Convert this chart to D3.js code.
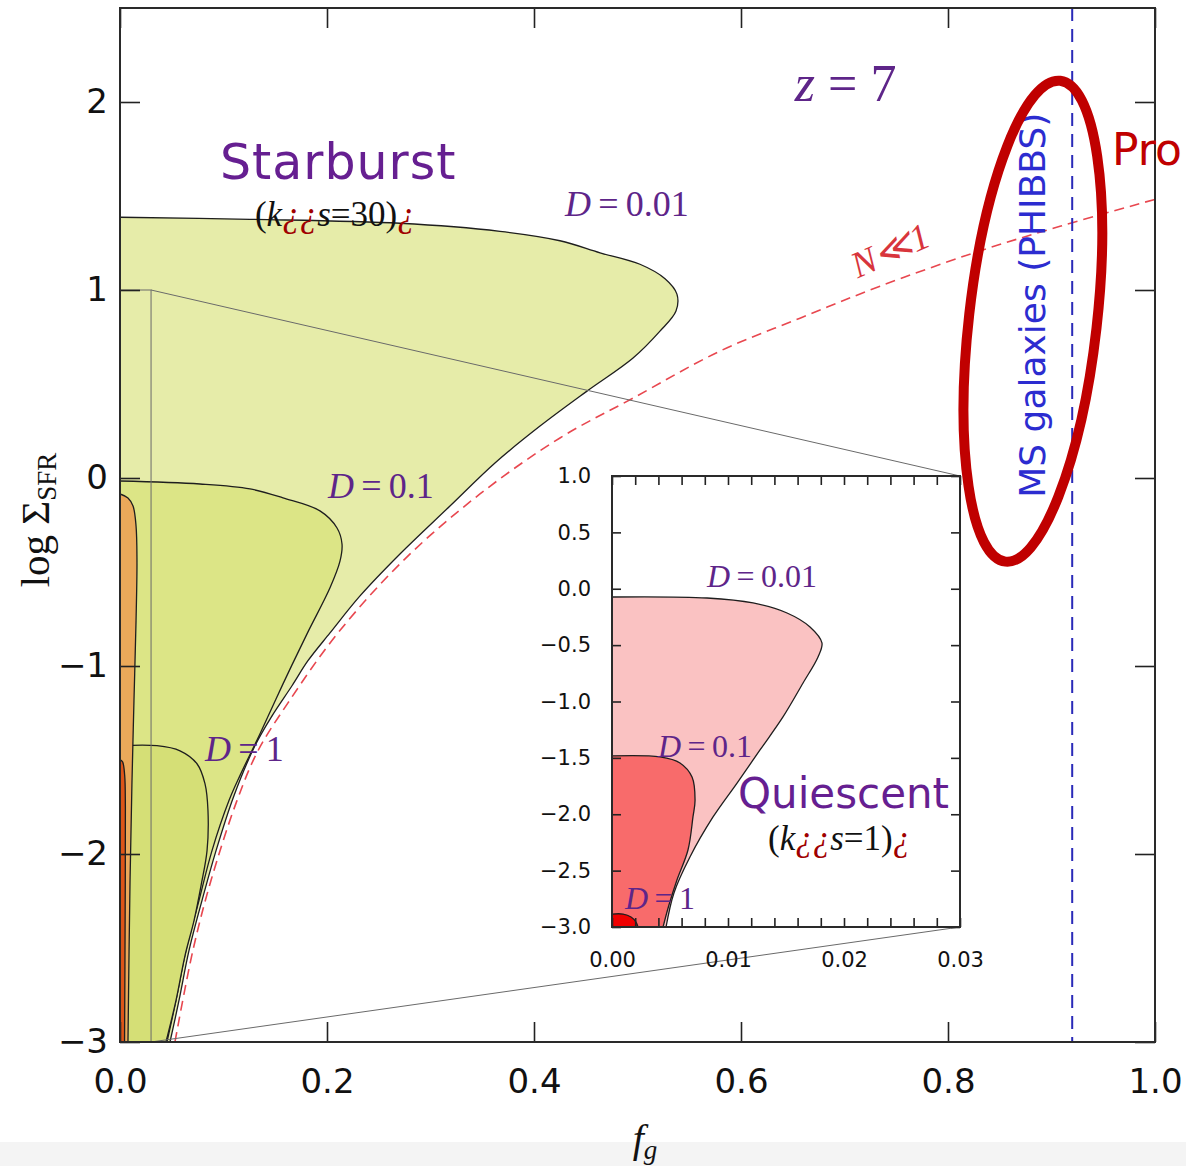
<!DOCTYPE html>
<html>
<head>
<meta charset="utf-8">
<script src="https://d3js.org/d3.v7.min.js"></script>
<style>
  body { margin: 0; background: #fff; }
  svg { display: block; }
</style>
</head>
<body>
<svg id="chart"></svg>
<script>
const WIDTH = 1186
const HEIGHT = 1166
const MAIN = {left: 120, right: 1155, top: 8, bottom: 1042}
const INSET = {left: 612, right: 960, top: 476, bottom: 927}
const PURPLE = "#5e2589"

// ---- main panel (starburst, kappa_s = 30): contour edges as [f_g, log SigmaSFR]
const starburstD001 = [
  [0, 1.387], [0.1256, 1.376], [0.2705, 1.355], [0.3671, 1.312], [0.4251, 1.262],
  [0.4638, 1.198], [0.5024, 1.137], [0.5266, 1.06], [0.5381, 0.978], [0.5372, 0.888],
  [0.5217, 0.781], [0.4957, 0.638], [0.4512, 0.462], [0.4058, 0.276], [0.3623, 0.08],
  [0.3188, -0.149], [0.2705, -0.404], [0.2319, -0.627], [0.2029, -0.824], [0.1816, -0.972],
  [0.1662, -1.105], [0.1469, -1.265], [0.1304, -1.424], [0.1101, -1.69], [0.0928, -1.982],
  [0.0792, -2.248], [0.0667, -2.513], [0.057, -2.779], [0.0483, -3.0]
]
const starburstD01 = [
  [0, -0.016], [0.0773, -0.032], [0.1256, -0.058], [0.1575, -0.106], [0.1932, -0.175],
  [0.2097, -0.266], [0.2145, -0.351], [0.2126, -0.441], [0.2029, -0.584], [0.1807, -0.829],
  [0.1575, -1.095], [0.1353, -1.36], [0.1159, -1.583], [0.1053, -1.716], [0.0889, -1.982],
  [0.0763, -2.248], [0.0638, -2.513], [0.0541, -2.779], [0.0454, -3.0]
]
const starburstD1 = [
  [0, -1.424], [0.0357, -1.424], [0.058, -1.451], [0.0744, -1.52], [0.0821, -1.626],
  [0.085, -1.769], [0.0841, -1.982], [0.0783, -2.168], [0.0715, -2.354], [0.0628, -2.54],
  [0.0541, -2.779], [0.0444, -3.0]
]
const starburstD10 = [
  [0, -0.085], [0.0077, -0.106], [0.0126, -0.149], [0.0155, -0.255], [0.0164, -0.441],
  [0.0155, -0.76], [0.0135, -1.185], [0.0116, -1.61], [0.0097, -2.141], [0.0077, -3.0]
]
const starburstD100 = [
  [0, -1.498], [0.0025, -1.51], [0.0045, -1.58], [0.0052, -1.75], [0.005, -2.3], [0.0044, -3.0]
]
// N << 1 limit (red dashed)
const nLimit = [
  [0.0531, -3.0], [0.0705, -2.511], [0.0879, -2.141], [0.113, -1.716], [0.1333, -1.451],
  [0.1623, -1.196], [0.2106, -0.824], [0.2754, -0.43], [0.3478, -0.085], [0.4251, 0.213],
  [0.4957, 0.425], [0.5797, 0.675], [0.657, 0.85], [0.7343, 1.02], [0.8242, 1.196],
  [0.9082, 1.339], [1.0, 1.482]
]
const msGalaxyFg = 0.92
const zoomBox = {x0: 0, x1: 0.03, y0: -3, y1: 1}

// ---- inset (quiescent, kappa_s = 1)
const quiescentD001 = [
  [0, -0.073], [0.00819, -0.082], [0.01216, -0.126], [0.01509, -0.215], [0.01707, -0.339],
  [0.0181, -0.481], [0.01776, -0.605], [0.01647, -0.836], [0.01474, -1.137], [0.01276, -1.43],
  [0.01078, -1.723], [0.00871, -2.024], [0.00672, -2.379], [0.00534, -2.698], [0.00466, -3.0]
]
const quiescentD01 = [
  [0, -1.483], [0.00414, -1.492], [0.00586, -1.545], [0.0069, -1.67], [0.00716, -1.874],
  [0.00698, -2.024], [0.00655, -2.317], [0.0056, -2.583], [0.00491, -2.805], [0.0044, -3.0]
]
const quiescentD1 = [
  [0, -2.885], [0.00095, -2.885], [0.00164, -2.911], [0.00207, -2.956], [0.00224, -3.0]
]

const mainXTicks = [0, 0.2, 0.4, 0.6, 0.8, 1.0]
const mainYTicks = [-3, -2, -1, 0, 1, 2]
const insetXTicks = [0, 0.01, 0.02, 0.03]
const insetYTicks = [-3, -2.5, -2, -1.5, -1, -0.5, 0, 0.5, 1]

const svg = d3.select("#chart").attr("width", WIDTH).attr("height", HEIGHT)
svg.append("rect").attr("width", WIDTH).attr("height", HEIGHT).attr("fill", "#fff")
svg.append("rect").attr("y", 1142).attr("width", WIDTH).attr("height", HEIGHT - 1142).attr("fill", "#f4f4f4")

const x = d3.scaleLinear().domain([0, 1]).range([MAIN.left, MAIN.right])
const y = d3.scaleLinear().domain([-3, 2.5]).range([MAIN.bottom, MAIN.top])
const xi = d3.scaleLinear().domain([0, 0.03]).range([INSET.left, INSET.right])
const yi = d3.scaleLinear().domain([-3, 1]).range([INSET.bottom, INSET.top])

function drawRegion(g, pts, xs, ys, fill) {
  const edge = d3.line().x((d) => xs(d[0])).y((d) => ys(d[1])).curve(d3.curveCatmullRom.alpha(0.5))
  g.append("path")
    .attr("d", edge(pts) + `L${xs(0)},${ys(-3)}Z`)
    .attr("fill", fill)
  g.append("path")
    .attr("d", edge(pts))
    .attr("fill", "none")
    .attr("stroke", "#1e1e1e")
    .attr("stroke-width", 1.3)
}

function addKappa(g, px, py, num, size) {
  const t = g.append("text").attr("x", px).attr("y", py)
    .style("font-family", "Liberation Serif, serif").style("font-size", size + "px").attr("fill", "#111")
  t.append("tspan").text("(")
  t.append("tspan").style("font-style", "italic").text("k")
  t.append("tspan").style("font-style", "italic").attr("fill", "#a00000").text("¿¿")
  t.append("tspan").style("font-style", "italic").text("s")
  t.append("tspan").text("=" + num + ")")
  t.append("tspan").style("font-style", "italic").attr("fill", "#a00000").text("¿")
}

function addDLabel(g, px, py, val, size) {
  const t = g.append("text").attr("x", px).attr("y", py)
    .style("font-family", "Liberation Serif, serif").style("font-size", size + "px").attr("fill", PURPLE)
  t.append("tspan").style("font-style", "italic").text("D")
  t.append("tspan").text("\u2009=\u2009" + val)
}

// ---- main panel
const main = svg.append("g")
main.append("defs").append("clipPath").attr("id", "mainClip")
  .append("rect").attr("x", MAIN.left).attr("y", MAIN.top)
  .attr("width", MAIN.right - MAIN.left).attr("height", MAIN.bottom - MAIN.top)
const plot = main.append("g").attr("clip-path", "url(#mainClip)")

drawRegion(plot, starburstD001, x, y, "#e6eca9")
drawRegion(plot, starburstD01, x, y, "#dce586")
drawRegion(plot, starburstD1, x, y, "#d5df76")
drawRegion(plot, starburstD10, x, y, "#eaa95a")
drawRegion(plot, starburstD100, x, y, "#dd5518")

// zoom box and connectors to the inset
plot.append("rect")
  .attr("x", x(zoomBox.x0)).attr("y", y(zoomBox.y1))
  .attr("width", x(zoomBox.x1) - x(zoomBox.x0)).attr("height", y(zoomBox.y0) - y(zoomBox.y1))
  .attr("fill", "none").attr("stroke", "#6a6a6a").attr("stroke-width", 1)
main.append("line")
  .attr("x1", x(zoomBox.x1)).attr("y1", y(zoomBox.y1)).attr("x2", INSET.right).attr("y2", INSET.top)
  .attr("stroke", "#6a6a6a").attr("stroke-width", 1)
main.append("line")
  .attr("x1", x(zoomBox.x1)).attr("y1", y(zoomBox.y0)).attr("x2", INSET.right).attr("y2", INSET.bottom)
  .attr("stroke", "#6a6a6a").attr("stroke-width", 1)

plot.append("path")
  .attr("d", d3.line().x((d) => x(d[0])).y((d) => y(d[1])).curve(d3.curveCatmullRom.alpha(0.5))(nLimit))
  .attr("fill", "none").attr("stroke", "#e8474f").attr("stroke-width", 1.6).attr("stroke-dasharray", "10,6")

plot.append("line")
  .attr("x1", x(msGalaxyFg)).attr("x2", x(msGalaxyFg)).attr("y1", MAIN.top).attr("y2", MAIN.bottom)
  .attr("stroke", "#2a2ab8").attr("stroke-width", 2).attr("stroke-dasharray", "13,8")

// axes
function styleAxis(g, size) {
  g.select(".domain").remove()
  g.selectAll(".tick line").attr("stroke", "#222").attr("stroke-width", 1.6)
  g.selectAll(".tick text").attr("fill", "#111")
    .style("font-family", "DejaVu Sans, sans-serif").style("font-size", size + "px")
}
main.append("g").attr("transform", `translate(0,${MAIN.bottom})`)
  .call(d3.axisBottom(x).tickValues(mainXTicks).tickFormat(d3.format(".1f")).tickSize(-20).tickPadding(27))
  .call((g) => styleAxis(g, 34))
main.append("g").attr("transform", `translate(0,${MAIN.top})`)
  .call(d3.axisTop(x).tickValues(mainXTicks).tickFormat("").tickSize(-20))
  .call((g) => styleAxis(g, 34))
main.append("g").attr("transform", `translate(${MAIN.left},0)`)
  .call(d3.axisLeft(y).tickValues(mainYTicks).tickFormat(d3.format("d")).tickSize(-20).tickPadding(12))
  .call((g) => styleAxis(g, 34))
main.append("g").attr("transform", `translate(${MAIN.right},0)`)
  .call(d3.axisRight(y).tickValues(mainYTicks).tickFormat("").tickSize(-20))
  .call((g) => styleAxis(g, 34))
main.append("rect")
  .attr("x", MAIN.left).attr("y", MAIN.top)
  .attr("width", MAIN.right - MAIN.left).attr("height", MAIN.bottom - MAIN.top)
  .attr("fill", "none").attr("stroke", "#2a2a2a").attr("stroke-width", 2)

// axis titles
const xTitle = main.append("text").attr("x", 645).attr("y", 1152).attr("text-anchor", "middle")
  .style("font-family", "Liberation Serif, serif").style("font-size", "40px").attr("fill", "#111")
xTitle.append("tspan").style("font-style", "italic").text("f")
xTitle.append("tspan").style("font-style", "italic").style("font-size", "27px").attr("dy", 7).text("g")
const yTitle = main.append("text").attr("transform", "translate(49,520) rotate(-90)").attr("text-anchor", "middle")
  .style("font-family", "Liberation Serif, serif").style("font-size", "41px").attr("fill", "#111")
yTitle.append("tspan").text("log Σ")
yTitle.append("tspan").style("font-size", "27px").attr("dy", 7).text("SFR")

// ---- inset
const inset = svg.append("g")
inset.append("rect")
  .attr("x", INSET.left).attr("y", INSET.top)
  .attr("width", INSET.right - INSET.left).attr("height", INSET.bottom - INSET.top)
  .attr("fill", "#fff")
drawRegion(inset, quiescentD001, xi, yi, "#fac2c2")
drawRegion(inset, quiescentD01, xi, yi, "#f86b6b")
drawRegion(inset, quiescentD1, xi, yi, "#f00000")

const insetMinor = xi.ticks(15)
inset.append("g").attr("transform", `translate(0,${INSET.bottom})`)
  .call(d3.axisBottom(xi).tickValues(insetMinor).tickFormat("").tickSize(-9))
  .call((g) => styleAxis(g, 21))
inset.append("g").attr("transform", `translate(0,${INSET.bottom})`)
  .call(d3.axisBottom(xi).tickValues(insetXTicks).tickFormat(d3.format(".2f")).tickSize(0).tickPadding(25))
  .call((g) => styleAxis(g, 21))
inset.append("g").attr("transform", `translate(0,${INSET.top})`)
  .call(d3.axisTop(xi).tickValues(insetMinor).tickFormat("").tickSize(-9))
  .call((g) => styleAxis(g, 21))
inset.append("g").attr("transform", `translate(${INSET.left},0)`)
  .call(d3.axisLeft(yi).tickValues(insetYTicks).tickFormat(d3.format(".1f")).tickSize(-9).tickPadding(21))
  .call((g) => styleAxis(g, 21))
inset.append("g").attr("transform", `translate(${INSET.right},0)`)
  .call(d3.axisRight(yi).tickValues(insetYTicks).tickFormat("").tickSize(-9))
  .call((g) => styleAxis(g, 21))
inset.append("rect")
  .attr("x", INSET.left).attr("y", INSET.top)
  .attr("width", INSET.right - INSET.left).attr("height", INSET.bottom - INSET.top)
  .attr("fill", "none").attr("stroke", "#2a2a2a").attr("stroke-width", 2)

// ---- annotations
const notes = svg.append("g")
notes.append("text").attr("x", x(0.0966)).attr("y", y(1.589))
  .style("font-family", "DejaVu Sans, sans-serif").style("font-size", "49px").style("letter-spacing", "1px")
  .attr("fill", "#661f91")
  .text("Starburst")
addKappa(notes, x(0.1304), y(1.339), "30", 35)
addDLabel(notes, x(0.43), y(1.392), "0.01", 36)
addDLabel(notes, x(0.201), y(-0.106), "0.1", 36)
addDLabel(notes, x(0.0821), y(-1.504), "1", 36)

const zText = notes.append("text").attr("x", x(0.652)).attr("y", y(2.003))
  .style("font-family", "Liberation Serif, serif").style("font-size", "52px").attr("fill", PURPLE)
zText.append("tspan").style("font-style", "italic").text("z")
zText.append("tspan").text(" = 7")

notes.append("text")
  .attr("transform", `translate(${x(0.749)},${y(1.15)}) rotate(-24)`)
  .attr("text-anchor", "middle")
  .style("font-family", "Liberation Serif, serif").style("font-size", "37px").style("font-style", "italic")
  .attr("fill", "#d8353c").text("N\u226A1")

notes.append("text")
  .attr("transform", `translate(${x(0.8938)},${y(0.919)}) rotate(-90)`)
  .attr("text-anchor", "middle")
  .style("font-family", "DejaVu Sans, sans-serif").style("font-size", "36px")
  .attr("fill", "#2c2cd0").text("MS galaxies (PHIBBS)")

addDLabel(notes, xi(0.00819), yi(0.0155), "0.01", 32)
addDLabel(notes, xi(0.00397), yi(-1.492), "0.1", 32)
addDLabel(notes, xi(0.00112), yi(-2.84), "1", 32)
notes.append("text").attr("x", xi(0.01086)).attr("y", yi(-1.944))
  .style("font-family", "DejaVu Sans, sans-serif").style("font-size", "42px").attr("fill", "#661f91")
  .text("Quiescent")
addKappa(notes, xi(0.01345), yi(-2.317), "1", 35)

// highlight ellipse and its caption
notes.append("ellipse")
  .attr("cx", x(0.882)).attr("cy", y(0.834)).attr("rx", 64).attr("ry", 242)
  .attr("transform", `rotate(6.5,${x(0.882)},${y(0.834)})`)
  .attr("fill", "none").attr("stroke", "#c00000").attr("stroke-width", 10)
notes.append("text").attr("x", x(0.9585)).attr("y", y(1.663))
  .style("font-family", "DejaVu Sans, sans-serif").style("font-size", "44px").attr("fill", "#c00000")
  .text("Pro")
</script>
</body>
</html>
